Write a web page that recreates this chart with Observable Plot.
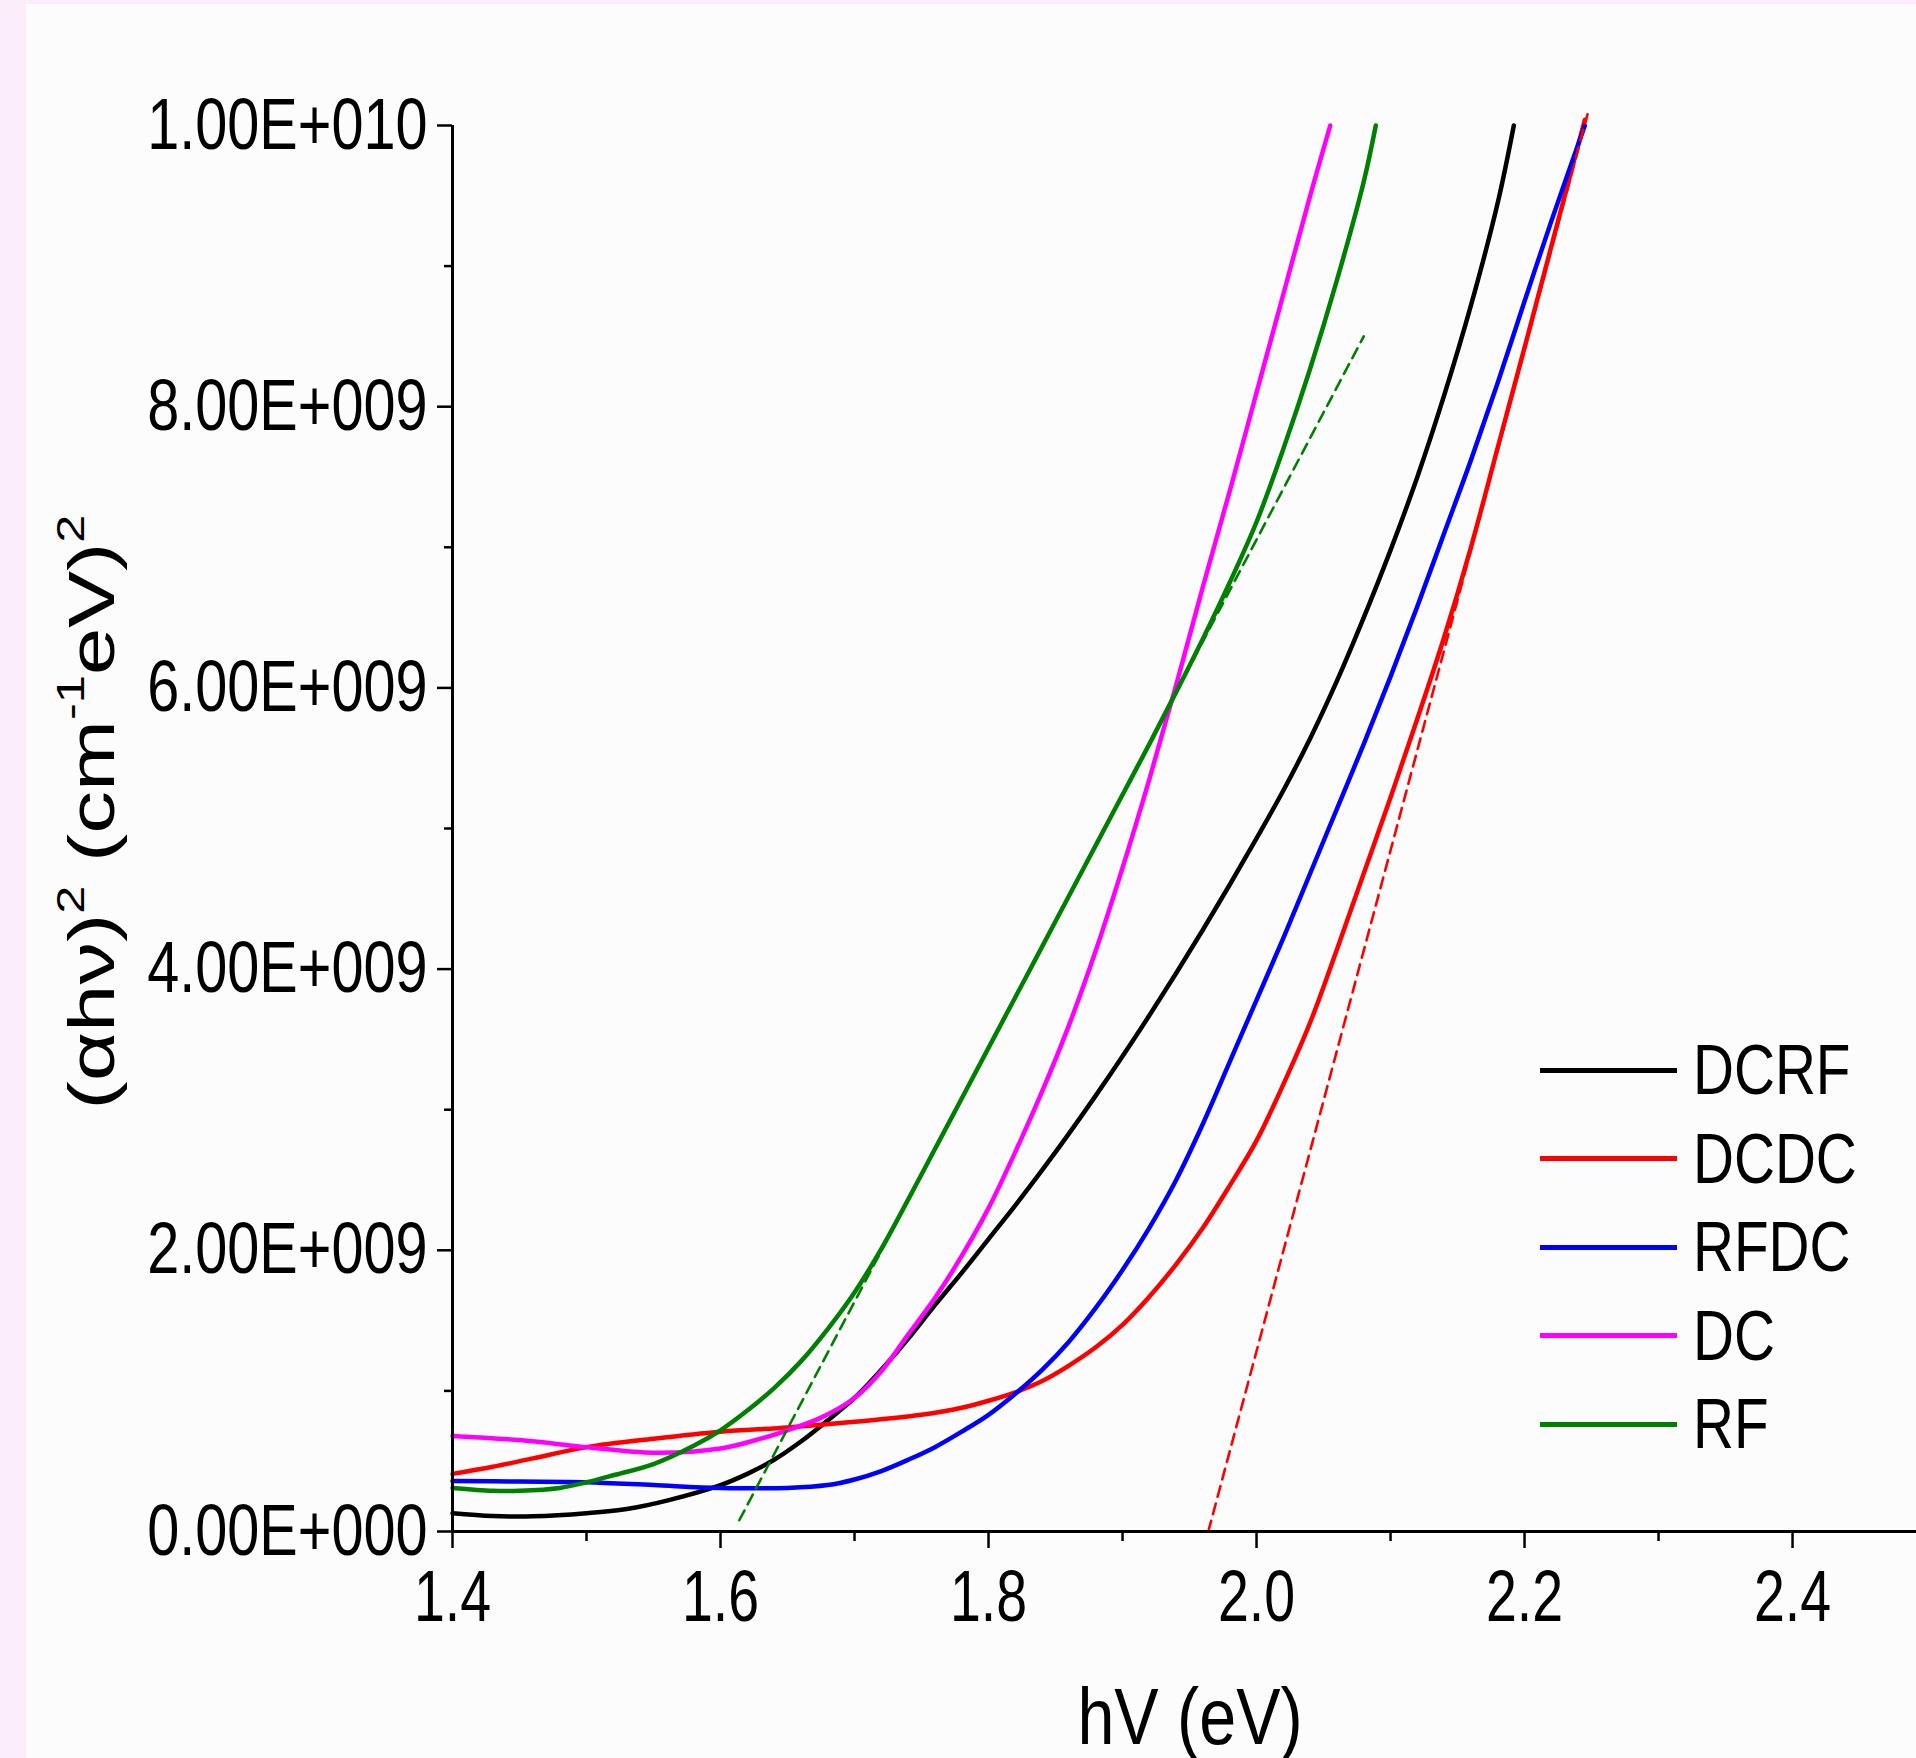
<!DOCTYPE html>
<html>
<head>
<meta charset="utf-8">
<script src="https://cdn.jsdelivr.net/npm/d3@7"></script>
<script src="https://cdn.jsdelivr.net/npm/@observablehq/plot@0.6"></script>
<style>
  html, body { margin: 0; padding: 0; overflow: hidden; }
  body { width: 1916px; height: 1758px; background: #fcedfb; position: relative; font-family: "Liberation Sans", Arial, sans-serif; color: #000; }
  #panel { position: absolute; left: 26px; top: 4px; right: 0; bottom: 0; background: #fcfcfc; }
  #chart { position: absolute; left: 0; top: 0; }
  .xtitle { position: absolute; left: 1190px; top: 1717px; width: 0; height: 0; }
  .xtitle span { position: absolute; white-space: nowrap; font-size: 80px; line-height: 1; transform: translate(-50%, -50%) scaleX(0.83); }
  .ytitle { position: absolute; left: 92px; top: 812px; width: 0; height: 0; }
  .ytitle span.t { position: absolute; white-space: nowrap; font-size: 64px; line-height: 1; transform: translate(-50%, -50%) rotate(-90deg) scaleX(1.33); }
  .sup { font-size: 38px; position: relative; top: -30px; line-height: 0; }
  #legend { position: absolute; left: 1540px; top: 1026px; }
  .row { display: flex; align-items: center; height: 88.5px; }
  .swatch { width: 137px; height: 5px; }
  .lab { margin-left: 16px; font-size: 70px; line-height: 1; transform: scaleX(0.81); transform-origin: left center; white-space: nowrap; }
</style>
</head>
<body>
<div id="panel"></div>
<div id="chart"></div>
<div class="xtitle"><span>hV (eV)</span></div>
<div class="ytitle"><span class="t">(αhν)<span class="sup">2</span> (cm<span class="sup">-1</span>eV)<span class="sup">2</span></span></div>
<div id="legend"></div>
<script>
// ---- data (y values in units of 1e9 (cm^-1 eV)^2) ----
const seriesNames  = ["DCRF", "DCDC", "RFDC", "DC", "RF"];
const seriesColors = ["#000000", "#ff0000", "#0000ff", "#ff00ff", "#008000"];

const xDCRF = [1.40,1.43,1.46,1.50,1.53,1.56,1.60,1.62,1.64,1.66,1.68,1.70,1.72,1.74,1.76,1.78,1.80,1.82,1.84,1.86,1.88,1.90,1.92,1.94,1.96,1.98,2.00,2.02,2.04,2.06,2.08,2.10,2.12,2.14,2.16,2.18,2.192];
const yDCRF = [0.13,0.11,0.108,0.13,0.16,0.22,0.33,0.41,0.51,0.64,0.79,0.95,1.15,1.37,1.61,1.84,2.08,2.32,2.57,2.83,3.10,3.38,3.67,3.97,4.28,4.60,4.93,5.27,5.64,6.05,6.50,6.98,7.50,8.08,8.72,9.45,10.0];

const xDCDC = [1.40,1.43,1.46,1.50,1.55,1.60,1.65,1.70,1.75,1.78,1.80,1.82,1.84,1.86,1.88,1.90,1.92,1.94,1.96,1.98,2.00,2.02,2.04,2.06,2.08,2.10,2.12,2.14,2.16,2.18,2.20,2.22,2.245];
const yDCDC = [0.41,0.46,0.52,0.60,0.66,0.71,0.74,0.78,0.83,0.88,0.93,0.99,1.07,1.18,1.31,1.47,1.67,1.90,2.16,2.46,2.78,3.18,3.62,4.14,4.68,5.22,5.78,6.36,7.00,7.71,8.42,9.14,10.04];

const xRFDC = [1.40,1.45,1.50,1.55,1.60,1.65,1.68,1.70,1.72,1.74,1.76,1.78,1.80,1.82,1.84,1.86,1.88,1.90,1.92,1.94,1.96,1.98,2.00,2.02,2.04,2.06,2.08,2.10,2.12,2.14,2.16,2.18,2.20,2.22,2.245];
const yRFDC = [0.36,0.355,0.35,0.33,0.31,0.31,0.33,0.37,0.43,0.51,0.60,0.71,0.83,0.98,1.15,1.35,1.59,1.86,2.16,2.50,2.90,3.34,3.78,4.22,4.68,5.14,5.60,6.08,6.58,7.10,7.62,8.17,8.75,9.32,10.0];

const xDC = [1.40,1.45,1.50,1.55,1.60,1.63,1.65,1.675,1.70,1.72,1.74,1.76,1.78,1.80,1.82,1.84,1.86,1.88,1.90,1.92,1.94,1.96,1.98,2.00,2.02,2.04,2.055];
const yDC = [0.68,0.65,0.60,0.56,0.59,0.66,0.72,0.81,0.95,1.14,1.40,1.66,1.96,2.30,2.70,3.13,3.60,4.13,4.72,5.35,6.02,6.72,7.40,8.10,8.80,9.50,10.0];

const xRF = [1.40,1.43,1.45,1.48,1.50,1.52,1.55,1.58,1.60,1.62,1.64,1.66,1.68,1.70,1.72,1.74,1.76,1.78,1.80,1.82,1.84,1.86,1.88,1.90,1.92,1.94,1.96,1.98,2.00,2.02,2.04,2.06,2.08,2.089];
const yRF = [0.31,0.29,0.29,0.31,0.35,0.40,0.48,0.61,0.72,0.86,1.02,1.21,1.44,1.70,2.01,2.36,2.72,3.08,3.44,3.80,4.16,4.52,4.88,5.24,5.60,5.97,6.35,6.75,7.18,7.70,8.27,8.90,9.60,10.0];

// tangent (band-gap extrapolation) lines
const tangentNames = ["RF", "DCDC"];
const xTangentRF = [1.614, 2.080];
const yTangentRF = [0.08, 8.50];
const xTangentDCDC = [1.964, 2.247];
const yTangentDCDC = [0.0, 10.08];

// ticks
const xTicks = [1.4, 1.6, 1.8, 2.0, 2.2, 2.4];
const xTickLabels = ["1.4", "1.6", "1.8", "2.0", "2.2", "2.4"];
const xMinorTicks = [1.5, 1.7, 1.9, 2.1, 2.3];
const yTicks = [0, 2e9, 4e9, 6e9, 8e9, 1e10];
const yTickLabels = ["0.00E+000", "2.00E+009", "4.00E+009", "6.00E+009", "8.00E+009", "1.00E+010"];
const yMinorTicks = [1e9, 3e9, 5e9, 7e9, 9e9];

// ---- build tables ----
const seriesX = [xDCRF, xDCDC, xRFDC, xDC, xRF];
const seriesY = [yDCRF, yDCDC, yRFDC, yDC, yRF];
const table = [];
seriesNames.forEach((name, s) => {
  seriesX[s].forEach((x, i) => table.push({series: name, x, y: seriesY[s][i] * 1e9}));
});
const tangents = [];
[[xTangentRF, yTangentRF], [xTangentDCDC, yTangentDCDC]].forEach(([xs, ys], k) => {
  xs.forEach((x, i) => tangents.push({series: tangentNames[k], x, y: ys[i] * 1e9}));
});

const font = '"Liberation Sans", Arial, sans-serif';
const chart = Plot.plot({
  width: 1916,
  height: 1758,
  marginLeft: 452,
  marginRight: 0,
  marginTop: 125,
  marginBottom: 227,
  style: {background: "transparent", overflow: "visible", fontFamily: font, color: "#000"},
  x: {domain: [1.4, 2.4925], label: null},
  y: {domain: [0, 1e10], label: null},
  color: {domain: seriesNames, range: seriesColors},
  marks: [
    Plot.line(table, {x: "x", y: "y", z: "series", stroke: "series", strokeWidth: 4.5, curve: "catmull-rom"}),
    Plot.line(tangents, {x: "x", y: "y", z: "series", stroke: "series", strokeWidth: 2.6, strokeDasharray: "11,7"}),
    Plot.ruleX([1.4], {stroke: "#000", strokeWidth: 3}),
    Plot.ruleY([0], {stroke: "#000", strokeWidth: 3}),
    Plot.axisX(xMinorTicks, {tickSize: 10, tickFormat: () => "", strokeWidth: 2.5, label: null}),
    Plot.axisX(xTicks, {tickSize: 17, tickPadding: 21, fontSize: 72, strokeWidth: 2.5, label: null,
      tickFormat: d => xTickLabels[xTicks.indexOf(d)]}),
    Plot.axisY(yMinorTicks, {tickSize: 8, tickFormat: () => "", strokeWidth: 2.5, label: null}),
    Plot.axisY(yTicks, {tickSize: 15, tickPadding: 10, fontSize: 72, strokeWidth: 2.5, label: null,
      tickFormat: d => yTickLabels[yTicks.indexOf(d)]})
  ]
});
document.getElementById("chart").appendChild(chart);

// condense tick labels horizontally to match the reference's narrow lettering
chart.querySelectorAll("g[aria-label$='tick label'] text").forEach(t => {
  if (!t.textContent.trim()) return;
  const isX = t.closest("g[aria-label^='x-axis']") != null;
  const L = t.getComputedTextLength();
  t.setAttribute("textLength", (L * (isX ? 0.77 : 0.80)).toFixed(1));
  t.setAttribute("lengthAdjust", "spacingAndGlyphs");
});

// legend
const legend = document.getElementById("legend");
seriesNames.forEach((name, i) => {
  const row = document.createElement("div");
  row.className = "row";
  const sw = document.createElement("span");
  sw.className = "swatch";
  sw.style.background = seriesColors[i];
  const lab = document.createElement("span");
  lab.className = "lab";
  lab.textContent = name;
  row.appendChild(sw);
  row.appendChild(lab);
  legend.appendChild(row);
});
</script>
</body>
</html>
